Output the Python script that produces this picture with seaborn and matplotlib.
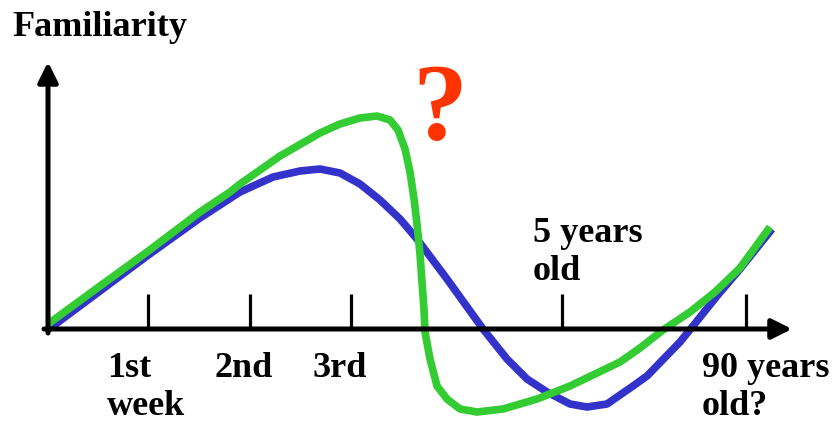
import pandas as pd
import matplotlib
matplotlib.use("Agg")
import matplotlib.pyplot as plt
import seaborn as sns

# curve values (x: time axis units, y: familiarity)
blue_x = [0.00, 0.05, 0.52, 0.99, 1.52, 1.92, 2.25, 2.52, 2.72, 2.92, 3.12, 3.32,
          3.52, 3.69, 3.99, 4.35, 4.59, 4.79, 4.99, 5.22, 5.39, 5.59, 5.85, 5.99,
          6.32, 6.45, 6.69, 6.92, 7.24]
blue_y = [0.00, 0.03, 0.38, 0.73, 1.11, 1.37, 1.52, 1.58, 1.60, 1.56, 1.45, 1.29,
          1.10, 0.90, 0.50, 0.00, -0.30, -0.50, -0.63, -0.75, -0.78, -0.75, -0.57, -0.47,
          -0.13, 0.03, 0.33, 0.60, 1.00]

green_x = [0.00, 0.52, 0.99, 1.52, 1.82, 1.92, 2.32, 2.72, 2.92, 3.12, 3.29, 3.42,
           3.50, 3.57, 3.62, 3.66, 3.69, 3.72, 3.74, 3.76, 3.77, 3.82, 3.89, 3.99,
           4.12, 4.29, 4.55, 4.89, 5.22, 5.72, 5.92, 6.15, 6.42, 6.67, 6.92, 7.22]
green_y = [0.05, 0.43, 0.77, 1.17, 1.37, 1.45, 1.73, 1.96, 2.05, 2.11, 2.13, 2.09,
           1.99, 1.80, 1.57, 1.30, 1.05, 0.75, 0.47, 0.20, -0.03, -0.30, -0.57, -0.70,
           -0.80, -0.83, -0.80, -0.70, -0.57, -0.33, -0.19, -0.01, 0.17, 0.37, 0.61, 1.02]

tick_pos = [1.00, 2.02, 3.03, 5.14, 6.98]

# axis labels placed by hand: text, left x, top y
label_text = ["1st\nweek", "2nd", "3rd", "5 years\nold", "90 years\nold?"]
label_x = [0.59, 1.66, 2.64, 4.85, 6.54]
label_y = [-0.22, -0.22, -0.22, 1.13, -0.22]

blue_c = "#3333cc"
green_c = "#33cc33"
red_c = "#ff3300"

sns.set_theme(style="white")
plt.rcParams["font.family"] = ["Liberation Serif", "DejaVu Serif"]
plt.rcParams["text.color"] = "black"

blue_df = pd.DataFrame({"x": blue_x, "y": blue_y})
green_df = pd.DataFrame({"x": green_x, "y": green_y})

fig = plt.figure(figsize=(8.36, 4.27), dpi=100)
ax = fig.add_axes([0, 0, 1, 1])

sns.lineplot(data=blue_df, x="x", y="y", ax=ax, color=blue_c, lw=5.5, sort=False,
             estimator=None, solid_capstyle="butt", solid_joinstyle="round", zorder=2)
sns.lineplot(data=green_df, x="x", y="y", ax=ax, color=green_c, lw=5.5, sort=False,
             estimator=None, solid_capstyle="butt", solid_joinstyle="round", zorder=3)

ax.set_xlim(-0.48, 7.88)
ax.set_ylim(-0.97, 3.30)

# axes drawn as arrows
arrow = dict(arrowstyle="-|>", color="black", lw=3.6, mutation_scale=30,
             shrinkA=0, shrinkB=0)
ax.annotate("", xy=(7.44, 0), xytext=(-0.04, 0), arrowprops=arrow, zorder=5)
ax.annotate("", xy=(0, 2.67), xytext=(0, -0.04), arrowprops=arrow, zorder=5)

for s in ax.spines.values():
    s.set_visible(False)
ax.spines["bottom"].set_position(("data", 0))
ax.set_xticks(tick_pos)
ax.set_xticklabels([])
ax.set_yticks([])
ax.tick_params(axis="x", direction="in", length=25, width=2.3, colors="black",
               bottom=True)
ax.set_xlabel("")
ax.set_ylabel("")

ax.text(-0.36, 2.94, "Familiarity", fontsize=26, fontweight="bold",
        color="black", ha="left", va="baseline")
ax.text(3.92, 1.91, "?", fontsize=79, fontweight="bold", color=red_c,
        ha="center", va="baseline")
for t, x, y in zip(label_text, label_x, label_y):
    ax.text(x, y, t, fontsize=26, fontweight="bold", color="black",
            ha="left", va="top", linespacing=1.2)

fig.savefig("out.png", dpi=100)
